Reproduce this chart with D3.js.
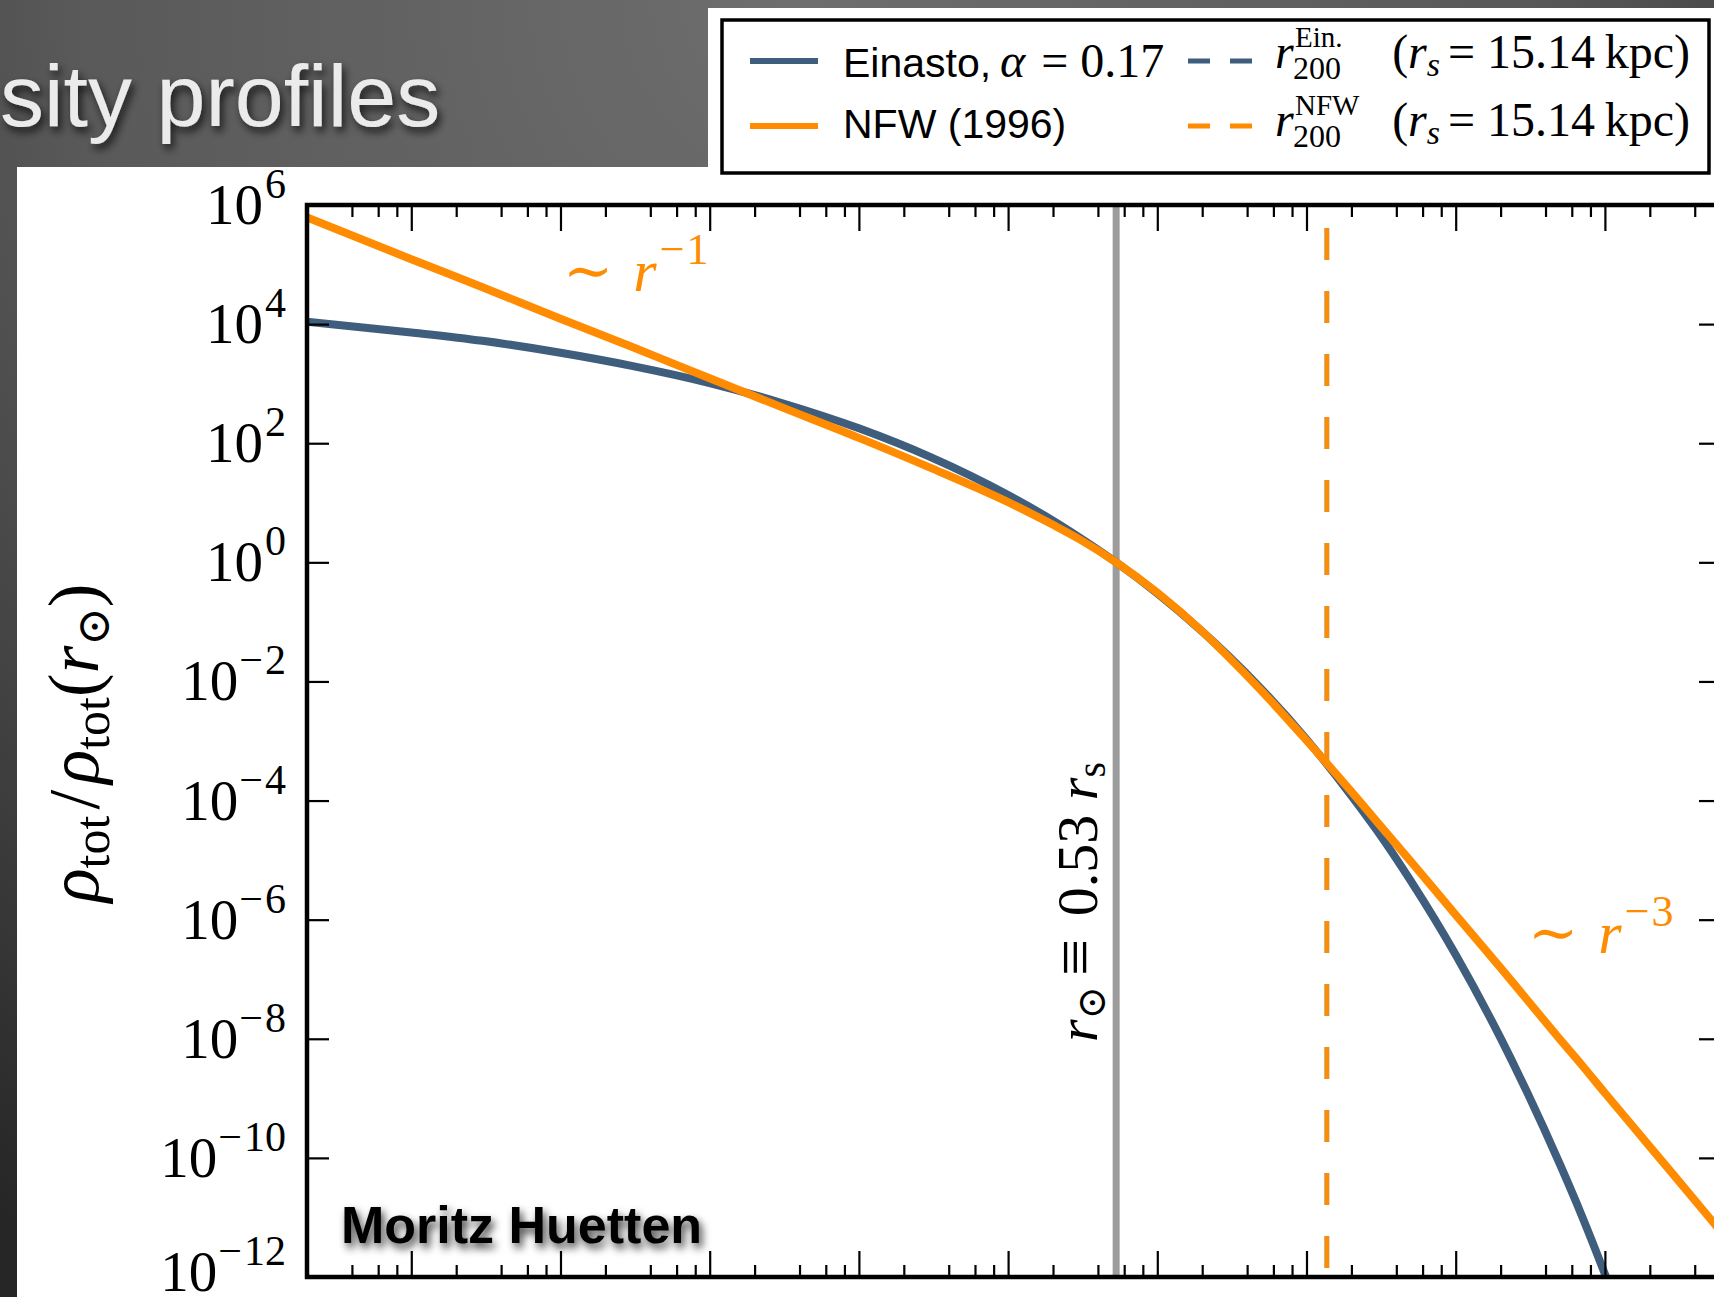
<!DOCTYPE html>
<html>
<head>
<meta charset="utf-8">
<script src="https://d3js.org/d3.v7.min.js"></script>
<style>
  html, body { margin: 0; padding: 0; background: #2b2b2b; overflow: hidden; }
  svg { display: block; }
</style>
</head>
<body>
<script>
//==DATA==//
// radius in units of r_s, density as log10(rho_tot / rho_tot(r_sun))
const radius = [2e-6, 1e-5, 3e-5, 1e-4, 3e-4, 1e-3, 3e-3, 1e-2, 0.03, 0.1, 0.2, 0.3, 0.53, 1, 2, 3, 5, 10, 20, 30, 50, 100, 200, 300, 500, 700, 1000, 2000, 5000, 6000];
const einasto = [4.04, 3.86, 3.72, 3.52, 3.30, 3.01, 2.68, 2.25, 1.77, 1.13, 0.70, 0.42, 0, -0.52, -1.16, -1.57, -2.13, -2.97, -3.92, -4.52, -5.35, -6.59, -7.99, -8.89, -10.11, -10.97, -11.95, -14.02, null, null];
const nfw = [5.79, 5.09, 4.62, 4.09, 3.62, 3.09, 2.61, 2.09, 1.59, 1.01, 0.63, 0.39, 0, -0.51, -1.16, -1.59, -2.16, -2.99, -3.85, -4.37, -5.02, -5.92, -6.81, -7.34, -8.01, -8.44, -8.91, -9.81, -11.00, -11.24];

// vertical markers (r / r_s)
const rSun = 0.53;
const r200 = 13.7;

// axes
const yExponents = [6, 4, 2, 0, -2, -4, -6, -8, -10, -12];
const xDecades = [-6, -5, -4, -3, -2, -1, 0, 1, 2, 3];
const xMinorSteps = [2, 4, 6, 8];

const seriesNames = ["Einasto, ", "NFW (1996)"];
const alphaValue = "0.17";
const rsValue = "15.14";

//==SVG AREA==//
const width = 1714;
const height = 1297;
const pLeft = 307, pTop = 205, pRight = 1721, pBottom = 1277;

const blue = "#3f5d7d";
const orange = "#ff8c00";
const serif = "'Liberation Serif', 'DejaVu Serif', serif";
const sans = "'Liberation Sans', Arial, sans-serif";

const svg = d3.select("body")
  .append("svg")
  .attr("width", width)
  .attr("height", height);

const defs = svg.append("defs");

const grad = defs.append("radialGradient")
  .attr("id", "bg")
  .attr("gradientUnits", "userSpaceOnUse")
  .attr("cx", 800).attr("cy", 0).attr("r", 1450);
grad.append("stop").attr("offset", 0).attr("stop-color", "#6e6e6e");
grad.append("stop").attr("offset", 0.5).attr("stop-color", "#595959");
grad.append("stop").attr("offset", 1).attr("stop-color", "#262626");

const shadow = defs.append("filter").attr("id", "shadow")
  .attr("x", "-10%").attr("y", "-30%").attr("width", "130%").attr("height", "180%");
shadow.append("feDropShadow")
  .attr("dx", 3).attr("dy", 5).attr("stdDeviation", 4)
  .attr("flood-color", "#000").attr("flood-opacity", 0.75);

defs.append("clipPath").attr("id", "plotclip")
  .append("rect")
  .attr("x", pLeft).attr("y", pTop)
  .attr("width", pRight - pLeft).attr("height", pBottom - pTop);

// slide background
svg.append("rect")
  .attr("width", width).attr("height", height)
  .attr("fill", "url(#bg)");

svg.append("text")
  .attr("x", 0).attr("y", 126)
  .attr("font-family", sans)
  .attr("font-size", 88)
  .attr("fill", "#ebebeb")
  .attr("filter", "url(#shadow)")
  .text("sity profiles");

// white figure panel + legend
svg.append("rect")
  .attr("x", 17).attr("y", 167)
  .attr("width", width - 17).attr("height", height - 167)
  .attr("fill", "#fff");
svg.append("rect")
  .attr("x", 708).attr("y", 8)
  .attr("width", width - 708).attr("height", 175)
  .attr("fill", "#fff");

//==SCALES==//
const x = d3.scaleLog().domain([2e-6, 6e3]).range([pLeft, pRight]);
const y = d3.scaleLog().domain([1e-12, 1e6]).range([pBottom, pTop]);

const plot = svg.append("g").attr("clip-path", "url(#plotclip)");

// r_sun marker
plot.append("line")
  .attr("x1", x(rSun)).attr("x2", x(rSun))
  .attr("y1", pTop).attr("y2", pBottom)
  .attr("stroke", "#9c9c9c")
  .attr("stroke-width", 7);

// r200 markers (Einasto underneath, NFW on top)
[blue, orange].forEach(function(c) {
  plot.append("line")
    .attr("x1", x(r200)).attr("x2", x(r200))
    .attr("y1", 228).attr("y2", pBottom)
    .attr("stroke", c)
    .attr("stroke-width", 4.5)
    .attr("stroke-dasharray", "32,31");
});

const line = d3.line()
  .defined(d => d[1] !== null)
  .x(d => x(d[0]))
  .y(d => y(Math.pow(10, d[1])))
  .curve(d3.curveMonotoneX);

plot.append("path")
  .datum(radius.map((r, i) => [r, einasto[i]]))
  .attr("fill", "none")
  .attr("stroke", blue)
  .attr("stroke-width", 8)
  .attr("d", line);

plot.append("path")
  .datum(radius.map((r, i) => [r, nfw[i]]))
  .attr("fill", "none")
  .attr("stroke", orange)
  .attr("stroke-width", 8)
  .attr("d", line);

//==AXES==//
const xMajor = xDecades.map(k => Math.pow(10, k)).filter(v => v > 2e-6 && v < 6e3);
const xMinor = [];
xDecades.forEach(function(k) {
  xMinorSteps.forEach(function(m) {
    const v = m * Math.pow(10, k);
    if (v > 2.1e-6 && v < 6e3) xMinor.push(v);
  });
});
const yMajor = yExponents.map(e => Math.pow(10, e));

function styleAxis(g) {
  g.select(".domain").remove();
  g.selectAll(".tick line").attr("stroke", "#000").attr("stroke-width", 2.2);
  g.selectAll(".tick text").remove();
}

svg.append("g").attr("transform", `translate(0,${pTop})`)
  .call(d3.axisTop(x).tickValues(xMajor).tickSize(-26).tickFormat("")).call(styleAxis);
svg.append("g").attr("transform", `translate(0,${pTop})`)
  .call(d3.axisTop(x).tickValues(xMinor).tickSize(-12).tickFormat("")).call(styleAxis);
svg.append("g").attr("transform", `translate(0,${pBottom})`)
  .call(d3.axisBottom(x).tickValues(xMajor).tickSize(-26).tickFormat("")).call(styleAxis);
svg.append("g").attr("transform", `translate(0,${pBottom})`)
  .call(d3.axisBottom(x).tickValues(xMinor).tickSize(-12).tickFormat("")).call(styleAxis);
svg.append("g").attr("transform", `translate(${pLeft},0)`)
  .call(d3.axisLeft(y).tickValues(yMajor).tickSize(-22).tickFormat("")).call(styleAxis);
svg.append("g").attr("transform", `translate(${pRight},0)`)
  .call(d3.axisRight(y).tickValues(yMajor).tickSize(-22).tickFormat("")).call(styleAxis);

svg.append("rect")
  .attr("x", pLeft).attr("y", pTop)
  .attr("width", pRight - pLeft).attr("height", pBottom - pTop)
  .attr("fill", "none")
  .attr("stroke", "#000")
  .attr("stroke-width", 4.5);

// y tick labels 10^n
yExponents.forEach(function(e) {
  const t = svg.append("text")
    .attr("x", 286).attr("y", y(Math.pow(10, e)) + (e === -12 ? 14 : 19))
    .attr("text-anchor", "end")
    .attr("font-family", serif)
    .attr("fill", "#000");
  t.append("tspan").attr("font-size", 57).text("10");
  const ex = t.append("tspan").attr("font-size", 42).attr("dy", -26);
  if (e < 0) {
    ex.attr("dx", 1).text("\u2212");
    t.append("tspan").attr("font-size", 42).attr("dx", 2).text(String(Math.abs(e)));
  } else {
    ex.attr("dx", 2).text(String(e));
  }
});

// y axis title
const yt = svg.append("text")
  .attr("transform", "translate(98,743) rotate(-90)")
  .attr("text-anchor", "middle")
  .attr("font-family", serif)
  .attr("font-size", 71)
  .attr("fill", "#000");
yt.append("tspan").attr("font-style", "italic").text("\u03c1");
yt.append("tspan").attr("font-size", 50).attr("dy", 11).text("tot");
yt.append("tspan").attr("dy", -11).attr("dx", 6).text("/");
yt.append("tspan").attr("font-style", "italic").attr("dx", 6).text("\u03c1");
yt.append("tspan").attr("font-size", 50).attr("dy", 11).text("tot");
yt.append("tspan").attr("dy", -11).text("(");
yt.append("tspan").attr("font-style", "italic").text("r");
yt.append("tspan").attr("font-size", 46).attr("dy", 11).text("\u2299");
yt.append("tspan").attr("dy", -11).text(")");

// r_sun label
const rl = svg.append("text")
  .attr("transform", `translate(${x(rSun) - 19},902) rotate(-90)`)
  .attr("text-anchor", "middle")
  .attr("font-family", serif)
  .attr("font-size", 58)
  .attr("fill", "#000");
rl.append("tspan").attr("font-style", "italic").text("r");
rl.append("tspan").attr("font-size", 40).attr("dy", 8).text("\u2299");
rl.append("tspan").attr("dy", -8).attr("dx", 10).attr("font-size", 66).text("\u2261");
rl.append("tspan").attr("dx", 8).text(" 0.53 ");
rl.append("tspan").attr("font-style", "italic").text("r");
rl.append("tspan").attr("font-size", 40).attr("dy", 8).text("s");

// slope annotations
function slope(xp, yp, exp) {
  const t = svg.append("text")
    .attr("x", xp).attr("y", yp)
    .attr("font-family", serif)
    .attr("font-size", 60)
    .attr("fill", orange);
  t.append("tspan").text("\u223c");
  t.append("tspan").attr("font-style", "italic").attr("dx", 20).text("r");
  t.append("tspan").attr("font-size", 44).attr("dy", -27).attr("dx", 3).text("\u2212");
  t.append("tspan").attr("font-size", 44).attr("dx", 2).text(exp);
}
slope(563, 291, "1");
slope(1528, 953, "3");

// watermark
svg.append("text")
  .attr("x", 341).attr("y", 1243)
  .attr("font-family", sans)
  .attr("font-weight", "bold")
  .attr("font-size", 52)
  .attr("fill", "#000")
  .attr("filter", "url(#shadow)")
  .text("Moritz Huetten");

//==LEGEND==//
const lg = svg.append("g");
lg.append("rect")
  .attr("x", 722).attr("y", 20)
  .attr("width", 987).attr("height", 153)
  .attr("fill", "#fff")
  .attr("stroke", "#000")
  .attr("stroke-width", 3.5);

const rows = [
  {c: blue, ly: 61, ty: 77, sup: "Ein.", my: 68},
  {c: orange, ly: 126, ty: 138, sup: "NFW", my: 136}
];
rows.forEach(function(row, i) {
  lg.append("line")
    .attr("x1", 750).attr("x2", 818)
    .attr("y1", row.ly).attr("y2", row.ly)
    .attr("stroke", row.c).attr("stroke-width", 6);
  lg.append("line")
    .attr("x1", 1188).attr("x2", 1252)
    .attr("y1", row.ly).attr("y2", row.ly)
    .attr("stroke", row.c).attr("stroke-width", 5)
    .attr("stroke-dasharray", "22,20");

  lg.append("text")
    .attr("x", 843).attr("y", row.ty)
    .attr("font-family", sans).attr("font-size", 41)
    .text(seriesNames[i]);

  // r_200 with super/subscript stacked
  const rr = lg.append("text")
    .attr("font-family", serif).attr("font-size", 48);
  rr.append("tspan").attr("x", 1275).attr("y", row.my)
    .attr("font-style", "italic").text("r");
  rr.append("tspan").attr("x", 1295).attr("y", row.my - 21)
    .attr("font-size", 29).text(row.sup);
  rr.append("tspan").attr("x", 1293).attr("y", row.my + 11)
    .attr("font-size", 32).text("200");

  const rs = lg.append("text")
    .attr("x", 1690).attr("y", row.my)
    .attr("text-anchor", "end")
    .attr("font-family", serif).attr("font-size", 48);
  rs.append("tspan").text("(");
  rs.append("tspan").attr("font-style", "italic").text("r");
  rs.append("tspan").attr("font-style", "italic").attr("font-size", 34).attr("dy", 8).text("s");
  rs.append("tspan").attr("dy", -8).attr("dx", 8).text("= " + rsValue + "\u2009kpc)");
});

// alpha part of the Einasto entry
const al = lg.append("text")
  .attr("x", 1000).attr("y", 77)
  .attr("font-family", serif).attr("font-size", 48);
al.append("tspan").attr("font-style", "italic").text("\u03b1");
al.append("tspan").attr("dx", 4).text(" = " + alphaValue);
</script>
</body>
</html>
